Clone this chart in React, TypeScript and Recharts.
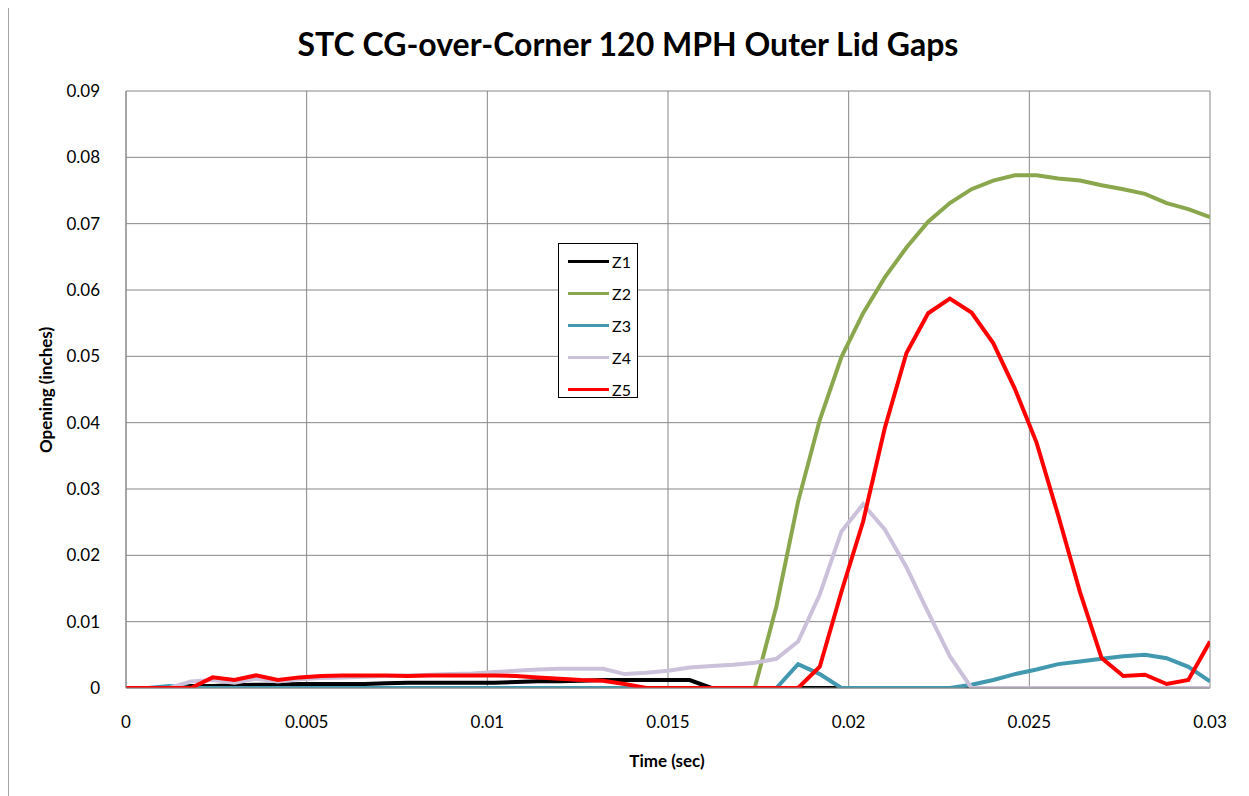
import React from 'react'
import { LineChart, Line, XAxis, YAxis, CartesianGrid, Legend } from 'recharts'

// time samples (sec)
const timeSec = [
  0, 0.0006, 0.0012, 0.0018, 0.0024, 0.003, 0.0036, 0.0042, 0.0048, 0.0054,
  0.006, 0.0066, 0.0072, 0.0078, 0.0084, 0.009, 0.0096, 0.0102, 0.0108, 0.0114,
  0.012, 0.0126, 0.0132, 0.0138, 0.0144, 0.015, 0.0156, 0.0162, 0.0168, 0.0174,
  0.018, 0.0186, 0.0192, 0.0198, 0.0204, 0.021, 0.0216, 0.0222, 0.0228, 0.0234,
  0.024, 0.0246, 0.0252, 0.0258, 0.0264, 0.027, 0.0276, 0.0282, 0.0288, 0.0294,
  0.03,
]

const z1 = [
  0, 0, 0, 0.0003, 0.0003, 0.0004, 0.0005, 0.0005, 0.0006, 0.0006,
  0.0006, 0.0006, 0.0007, 0.0008, 0.0008, 0.0008, 0.0008, 0.0008, 0.0009, 0.001,
  0.001, 0.0011, 0.0012, 0.0012, 0.0012, 0.0012, 0.0012, 0, 0, 0,
  0, 0, 0, 0, 0, 0, 0, 0, 0, 0,
  0, 0, 0, 0, 0, 0, 0, 0, 0, 0,
  0,
]

const z2 = [
  0, 0, 0, 0, 0, 0, 0, 0, 0, 0,
  0, 0, 0, 0, 0, 0, 0, 0, 0, 0,
  0, 0, 0, 0, 0, 0, 0, 0, 0, 0,
  0.0123, 0.0281, 0.0404, 0.0499, 0.0565, 0.0619, 0.0664, 0.0703, 0.0731, 0.0752,
  0.0765, 0.0773, 0.0773, 0.0768, 0.0765, 0.0758, 0.0752, 0.0745, 0.0731, 0.0722,
  0.071,
]

const z3 = [
  0, 0, 0.0003, 0, 0, 0, 0, 0, 0, 0,
  0, 0, 0, 0, 0, 0, 0, 0, 0, 0,
  0, 0, 0, 0, 0, 0, 0, 0, 0, 0,
  0, 0.0036, 0.0021, 0, 0, 0, 0, 0, 0, 0.0005,
  0.0012, 0.0021, 0.0028, 0.0036, 0.004, 0.0044, 0.0048, 0.005, 0.0045, 0.0032,
  0.001,
]

const z4 = [
  0, 0, 0, 0.001, 0.0012, 0.0008, 0.0014, 0.001, 0.0013, 0.0015,
  0.0016, 0.0017, 0.0018, 0.0019, 0.002, 0.0021, 0.0022, 0.0024, 0.0026, 0.0028,
  0.0029, 0.0029, 0.0029, 0.0021, 0.0023, 0.0026, 0.0031, 0.0033, 0.0035, 0.0038,
  0.0044, 0.007, 0.0141, 0.0236, 0.0277, 0.0239, 0.0182, 0.0114, 0.0048, 0,
  0, 0, 0, 0, 0, 0, 0, 0, 0, 0,
  0,
]

const z5 = [
  0, 0, 0, 0, 0.0016, 0.0012, 0.0019, 0.0012, 0.0016, 0.0018,
  0.0019, 0.0019, 0.0019, 0.0018, 0.0019, 0.0019, 0.0019, 0.0019, 0.0018, 0.0016,
  0.0014, 0.0012, 0.0011, 0.0006, 0, 0, 0, 0, 0, 0,
  0, 0, 0.0032, 0.0145, 0.0251, 0.0392, 0.0505, 0.0565, 0.0587, 0.0566,
  0.052, 0.0451, 0.037, 0.026, 0.0145, 0.0045, 0.0018, 0.002, 0.0006, 0.0012,
  0.007,
]

const xTicks = [0, 0.005, 0.01, 0.015, 0.02, 0.025, 0.03]
const xTickLabels = ['0', '0.005', '0.01', '0.015', '0.02', '0.025', '0.03']
const yTicks = [0, 0.01, 0.02, 0.03, 0.04, 0.05, 0.06, 0.07, 0.08, 0.09]
const yTickLabels = ['0', '0.01', '0.02', '0.03', '0.04', '0.05', '0.06', '0.07', '0.08', '0.09']

const seriesNames = ['Z1', 'Z2', 'Z3', 'Z4', 'Z5']
const seriesColors = ['#000000', '#8aa74e', '#4198af', '#ccc1da', '#ff0000']
const seriesValues = [z1, z2, z3, z4, z5]

const data = timeSec.map((t, i) => {
  const row: any = { t }
  seriesNames.forEach((name, s) => { row[name] = seriesValues[s][i] })
  return row
})

const FONT = 'Lato, "Open Sans", sans-serif'
const GRID = '#878787'

function LegendBox({ payload }: any) {
  return (
    <div style={{
      border: '1px solid #000', background: '#fff', width: 80, height: 155,
      boxSizing: 'border-box', padding: '1px 0 0 9px', fontFamily: FONT, fontSize: 16,
    }}>
      {(payload || []).map((p: any) => (
        <div key={p.value} style={{ display: 'flex', alignItems: 'center', height: 32 }}>
          <span style={{ display: 'inline-block', width: 41, height: 3, background: p.color, marginRight: 3 }} />
          <span style={{ color: '#000' }}>{p.value}</span>
        </div>
      ))}
    </div>
  )
}

export default function App() {
  return (
    <div style={{ position: 'relative', width: 1249, height: 796, margin: '-8px 0 0 -8px', background: '#fff', fontFamily: FONT, overflow: 'hidden' }}>
      <div style={{
        position: 'absolute', left: 0, width: 1256, top: 24, textAlign: 'center',
        fontSize: 32, fontWeight: 700, color: '#000',
      }}>STC CG-over-Corner 120 MPH Outer Lid Gaps</div>
      <div style={{
        position: 'absolute', left: 45, top: 390, transform: 'translate(-50%, -50%) rotate(-90deg)',
        fontSize: 17, fontWeight: 700, whiteSpace: 'nowrap',
      }}>Opening (inches)</div>
      <div style={{
        position: 'absolute', left: 667, top: 760, transform: 'translate(-50%, -50%)',
        fontSize: 17, fontWeight: 700, whiteSpace: 'nowrap',
      }}>Time (sec)</div>
      <div style={{ position: 'absolute', left: 0, top: 0 }}>
        <LineChart width={1249} height={796} data={data} margin={{ top: 91, right: 39, left: 66, bottom: 78 }}>
          <CartesianGrid stroke={GRID} strokeWidth={1} />
          <XAxis
            type="number"
            dataKey="t"
            domain={[0, 0.03]}
            ticks={xTicks}
            tickFormatter={(v: number) => xTickLabels[xTicks.indexOf(v)] ?? String(v)}
            tickLine={false}
            axisLine={{ stroke: GRID }}
            height={30}
            tickMargin={22}
            tick={{ fontSize: 17, fill: '#000', fontFamily: FONT }}
            allowDataOverflow
          />
          <YAxis
            type="number"
            domain={[0, 0.09]}
            ticks={yTicks}
            tickFormatter={(v: number) => yTickLabels[yTicks.findIndex(y => Math.abs(y - v) < 1e-9)] ?? String(v)}
            tickLine={false}
            axisLine={{ stroke: GRID }}
            width={60}
            tickMargin={20}
            tick={{ fontSize: 17, fill: '#000', fontFamily: FONT }}
            allowDataOverflow
          />
          <Legend
            layout="vertical"
            verticalAlign="middle"
            align="center"
            content={<LegendBox />}
            wrapperStyle={{ left: 558, top: 243, width: 80 }}
          />
          {seriesNames.map((name, i) => (
            <Line
              key={name}
              type="linear"
              dataKey={name}
              stroke={seriesColors[i]}
              strokeWidth={4}
              dot={false}
              activeDot={false}
              isAnimationActive={false}
            />
          ))}
        </LineChart>
      </div>
      {/* chart frame */}
      <div style={{ position: 'absolute', left: 7, top: 0, width: 1260, height: 810, borderLeft: '2px solid #a6a6a6', borderTop: '1px solid #a6a6a6', pointerEvents: 'none', zIndex: 10 }} />
    </div>
  )
}
